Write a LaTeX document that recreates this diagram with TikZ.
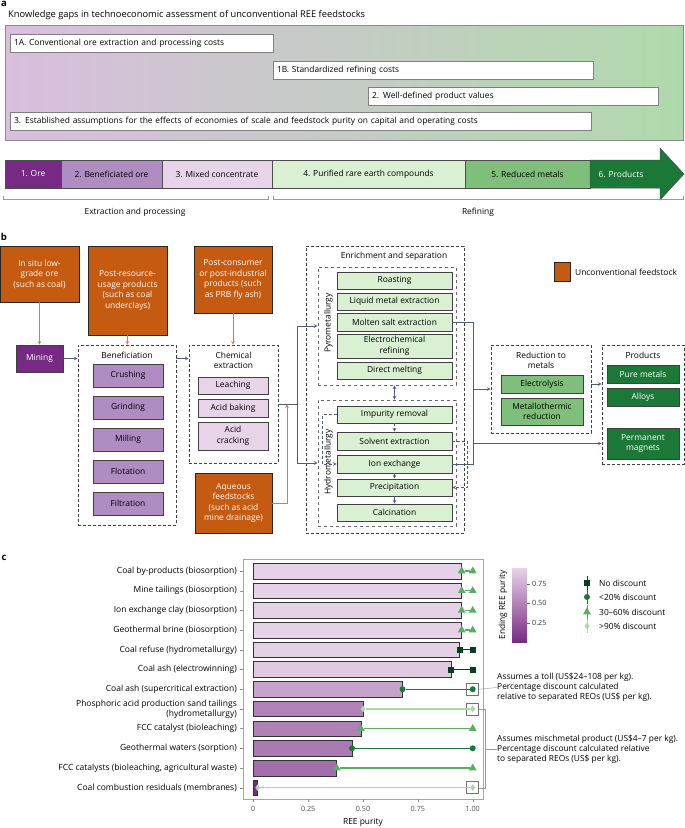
\documentclass[tikz,border=0pt]{standalone}
\usepackage{fontspec}
\setmainfont{Open Sans}
\usepackage{xcolor}
\usepackage{tikz}
\usetikzlibrary{arrows, shapes.geometric, positioning, calc}

\definecolor{ore}{HTML}{762A83}
\definecolor{benore}{HTML}{AF8DC3}
\definecolor{mixcon}{HTML}{E7D4E8}
\definecolor{purif}{HTML}{D9F0D3}
\definecolor{redmet}{HTML}{7FBF7B}
\definecolor{prodgreen}{HTML}{1B7837}
\definecolor{feedorange}{HTML}{C55A11}
\definecolor{feedline}{HTML}{E07A36}
\definecolor{flowblue}{HTML}{4E5C7E}
\definecolor{nodisc}{HTML}{00441B}
\definecolor{lowdisc}{HTML}{1B7837}
\definecolor{middisc}{HTML}{5AAE61}
\definecolor{highdisc}{HTML}{A6DBA0}
\definecolor{gapviolet}{HTML}{D9BEDE}
\definecolor{gapgreen}{HTML}{B0D9AB}

\tikzset{
  txt/.style={font=\fontsize{8.4}{10.5}\selectfont},
  gapbox/.style={draw=black!50, fill=white, line width=0.5pt, minimum height=18pt, inner xsep=4pt, inner ysep=0pt, align=left, txt},
  stage/.style={draw=black!70, line width=0.5pt, minimum height=28pt, inner sep=0pt, txt},
  feed/.style={draw=black!85, fill=feedorange, text=white, align=center, inner sep=0pt, line width=0.6pt, txt},
  group/.style={draw=black!75, densely dashed, line width=0.6pt, inner sep=0pt},
  subgroup/.style={draw=black!60, dashed, line width=0.8pt, inner sep=0pt},
  stepbox/.style={draw=black!75, line width=0.7pt, inner sep=0pt, align=center, txt},
  flowline/.style={draw=flowblue, line width=0.7pt},
  flow/.style={->, flowline},
  feedflow/.style={->, draw=feedline, line width=0.7pt},
  loopflow/.style={->, flowline, densely dashed},
  catlabel/.style={anchor=east, inner sep=0pt, align=right, font=\fontsize{8.5}{10}\selectfont},
  bar/.style={draw=black!80, line width=0.6pt},
  tri/.style={regular polygon, regular polygon sides=3, fill=middisc, inner sep=0pt, minimum size=9pt},
  sqmark/.style={rectangle, fill=nodisc, minimum size=6pt, inner sep=0pt},
  circmark/.style={circle, fill=lowdisc, minimum size=6pt, inner sep=0pt},
  diamark/.style={diamond, fill=highdisc, minimum width=5pt, minimum height=7pt, inner sep=0pt},
  discline/.style={line width=1.3pt},
  tolbox/.style={draw=black!55, line width=0.6pt, minimum size=12pt, inner sep=0pt},
  ticklabel/.style={font=\fontsize{7.2}{8}\selectfont, text=black!70, inner sep=0pt},
  notetext/.style={anchor=west, align=left, inner sep=0pt, font=\fontsize{8.4}{10}\selectfont},
  panel/.style={font=\bfseries\fontsize{9.5}{9.5}\selectfont, inner sep=0pt}
}

\begin{document}
\begin{tikzpicture}[x=1pt, y=-1pt, >=stealth, txt]
    \useasboundingbox (0,0) rectangle (685,828);

    % panel a
    \node[panel] (la) at (4,4) {a};
    \node[anchor=west, inner sep=0pt, font=\fontsize{9.3}{10}\selectfont] (gaptitle) at (8,15) {Knowledge gaps in technoeconomic assessment of unconventional REE feedstocks};
    \shade[left color=gapviolet, middle color=white, right color=gapgreen] (5,25) rectangle (683,140);
    \draw[black!45, line width=0.6pt] (5,25) rectangle (683,140);

    \node[gapbox, text width=255pt] (gap1a) at (141.5,43.5) {1A. Conventional ore extraction and processing costs};
    \node[gapbox, text width=312pt] (gap1b) at (433,70) {1B. Standardized refining costs};
    \node[gapbox, text width=282pt] (gap2) at (513,96) {2. Well-defined product values};
    \node[gapbox, text width=573pt] (gap3) at (300.5,121) {3. Established assumptions for the effects of economies of scale and feedstock purity on capital and operating costs};

    \node[stage, fill=ore, text=white, minimum width=56pt] (s1) at (33,174) {1. Ore};
    \node[stage, fill=benore, minimum width=101pt] (s2) at (111.5,174) {2. Beneficiated ore};
    \node[stage, fill=mixcon, minimum width=110pt] (s3) at (217,174) {3. Mixed concentrate};
    \node[stage, fill=purif, minimum width=193pt] (s4) at (368.5,174) {4. Purified rare earth compounds};
    \node[stage, fill=redmet, minimum width=125pt] (s5) at (527.5,174) {5. Reduced metals};
    \draw[fill=prodgreen, draw=black!70, line width=0.5pt] (590,160) -- (660,160) -- (660,148) -- (684,174) -- (660,200) -- (660,188) -- (590,188) -- cycle;
    \node[text=white] (s6) at (621,174) {6. Products};

    \draw[black!40] (3,196) -- (3,199) -- (268,199) -- (268,196);
    \draw[black!40] (273,196) -- (273,199) -- (683,199) -- (683,196);
    \node (extr) at (135,212) {Extraction and processing};
    \node (refin) at (478,212) {Refining};

    % panel b
    \node[panel] (lb) at (4,237) {b};

    \node[feed, minimum width=79pt, minimum height=56pt] (insitu) at (39.5,274) {In situ low-\\grade ore\\(such as coal)};
    \node[feed, minimum width=79pt, minimum height=89pt] (postres) at (127.5,290.5) {Post-resource-\\usage products\\(such as coal\\underclays)};
    \node[feed, minimum width=78pt, minimum height=67pt] (postcon) at (233,279.5) {Post-consumer\\or post-industrial\\products (such\\as PRB fly ash)};
    \node[feed, minimum width=77pt, minimum height=60pt] (aqueous) at (233.5,503) {Aqueous\\feedstocks\\(such as acid\\mine drainage)};

    \node[stepbox, fill=ore, text=white, minimum width=47pt, minimum height=27pt] (mining) at (39.5,358.5) {Mining};

    \node[group, minimum width=98pt, minimum height=180pt] (benef) at (127,435) {};
    \node (benefT) at (127,355) {Beneficiation};
    \node[stepbox, fill=benore, minimum width=70pt, minimum height=23pt] (crush) at (128,375.5) {Crushing};
    \node[stepbox, fill=benore, minimum width=70pt, minimum height=23pt] (grind) at (128,407.5) {Grinding};
    \node[stepbox, fill=benore, minimum width=70pt, minimum height=23pt] (mill) at (128,439.5) {Milling};
    \node[stepbox, fill=benore, minimum width=70pt, minimum height=23pt] (flot) at (128,471.5) {Flotation};
    \node[stepbox, fill=benore, minimum width=70pt, minimum height=23pt] (filt) at (128,503.5) {Filtration};

    \node[group, minimum width=89pt, minimum height=118pt] (chem) at (233.5,404) {};
    \node[align=center] (chemT) at (233.5,360.5) {Chemical\\extraction};
    \node[stepbox, fill=mixcon, minimum width=70pt, minimum height=17pt] (leach) at (233,385.5) {Leaching};
    \node[stepbox, fill=mixcon, minimum width=70pt, minimum height=18pt] (bake) at (233,408) {Acid baking};
    \node[stepbox, fill=mixcon, minimum width=70pt, minimum height=28pt] (crack) at (233,436) {Acid\\cracking};

    \node[group, minimum width=158pt, minimum height=287pt] (enrich) at (385,389.5) {};
    \node (enrichT) at (394,256) {Enrichment and separation};

    \node[subgroup, minimum width=138pt, minimum height=118pt] (pyro) at (387,326) {};
    \node[rotate=90] (pyroT) at (328.5,323) {Pyrometallurgy};
    \node[stepbox, fill=purif, minimum width=115pt, minimum height=17pt] (roast) at (394.5,280.5) {Roasting};
    \node[stepbox, fill=purif, minimum width=115pt, minimum height=17pt] (liquid) at (394.5,301.5) {Liquid metal extraction};
    \node[stepbox, fill=purif, minimum width=115pt, minimum height=18pt] (molten) at (394.5,322) {Molten salt extraction};
    \node[stepbox, fill=purif, minimum width=115pt, minimum height=24pt] (echem) at (394.5,346) {Electrochemical\\refining};
    \node[stepbox, fill=purif, minimum width=115pt, minimum height=17pt] (dmelt) at (394.5,370.5) {Direct melting};

    \node[subgroup, minimum width=138pt, minimum height=126pt] (hydro) at (387,463) {};
    \node[rotate=90] (hydroT) at (328.5,462) {Hydrometallurgy};
    \node[stepbox, fill=purif, minimum width=115pt, minimum height=17pt] (impur) at (394.5,414.5) {Impurity removal};
    \node[stepbox, fill=purif, minimum width=115pt, minimum height=18pt] (solvent) at (394.5,441) {Solvent extraction};
    \node[stepbox, fill=purif, minimum width=115pt, minimum height=18pt] (ion) at (394.5,464) {Ion exchange};
    \node[stepbox, fill=purif, minimum width=115pt, minimum height=17pt] (precip) at (394.5,487.5) {Precipitation};
    \node[stepbox, fill=purif, minimum width=115pt, minimum height=17pt] (calcin) at (394.5,512.5) {Calcination};

    \node[group, minimum width=100pt, minimum height=88pt] (reduc) at (541,389) {};
    \node[align=center] (reducT) at (541,360.5) {Reduction to\\metals};
    \node[stepbox, fill=redmet, minimum width=82pt, minimum height=18pt] (electro) at (542,384) {Electrolysis};
    \node[stepbox, fill=redmet, minimum width=82pt, minimum height=27pt] (metallo) at (542,411.5) {Metallothermic\\reduction};

    \node[group, minimum width=82pt, minimum height=119pt] (prods) at (643,404.5) {};
    \node (prodsT) at (643,355) {Products};
    \node[stepbox, fill=prodgreen, text=white, minimum width=72pt, minimum height=18pt] (pure) at (643,374) {Pure metals};
    \node[stepbox, fill=prodgreen, text=white, minimum width=72pt, minimum height=18pt] (alloys) at (643,397) {Alloys};
    \node[stepbox, fill=prodgreen, text=white, minimum width=72pt, minimum height=31pt] (magnets) at (643,443.5) {Permanent\\magnets};

    \node[draw=black!85, fill=feedorange, minimum width=16pt, minimum height=19pt, inner sep=0pt] (legsq) at (562,271.5) {};
    \node[anchor=west, inner sep=0pt] (legtext) at (575,272) {Unconventional feedstock};

    \draw[feedflow] (insitu.south) -- (mining.north);
    \draw[feedflow] (postres.south) -- (postres.south |- benef.north);
    \draw[feedflow] (postcon.south) -- (postcon.south |- chem.north);
    \draw[flow] (mining.east) -- (mining.east -| benef.west);
    \draw[flow] (benef.east |- mining.east) -- (chem.west |- mining.east);

    \coordinate (split) at (297,404);
    \coordinate (aqjoin) at (287,404);
    \draw[flowline] (chem.east) -- (split);
    \draw[flow] (split) |- (pyro.west);
    \draw[flow] (split) |- (hydro.west);
    \draw[feedflow] (aqueous.east) -| (aqjoin);

    \draw[flow, <->] (dmelt.south |- pyro.south) -- (dmelt.south |- hydro.north);
    \draw[loopflow] (impur.south) -- (solvent.north);
    \draw[loopflow] (ion.south) -- (precip.north);
    \draw[flow] (precip.south) -- (calcin.north);
    \draw[loopflow] (impur.west) -- ++(-14,0) |- (ion.west);
    \draw[loopflow] (solvent.east) -- ++(15,0) |- (precip.east);

    \coordinate (otop) at (473,322);
    \coordinate (obot) at (473,464);
    \draw[flowline] (molten.east) -- (otop) -- (obot) -- (ion.east);
    \draw[flow] (otop |- reduc.west) -- (reduc.west);
    \draw[flow] (otop |- magnets.west) -- (magnets.west -| prods.west);
    \draw[flow] (electro.east -| reduc.east) -- (electro.east -| prods.west);

    % panel c
    \node[panel] (lc) at (4,558) {c};
    \draw[black!35, line width=0.6pt] (243,559) rectangle (483,799);

    \node[catlabel] (c1) at (237,571) {Coal by-products (biosorption)};
    \node[catlabel] (c2) at (237,590.7) {Mine tailings (biosorption)};
    \node[catlabel] (c3) at (237,610.4) {Ion exchange clay (biosorption)};
    \node[catlabel] (c4) at (237,630.1) {Geothermal brine (biosorption)};
    \node[catlabel] (c5) at (237,649.8) {Coal refuse (hydrometallurgy)};
    \node[catlabel] (c6) at (237,669.5) {Coal ash (electrowinning)};
    \node[catlabel] (c7) at (237,689.2) {Coal ash (supercritical extraction)};
    \node[catlabel] (c8) at (237,708.9) {Phosphoric acid production sand tailings\\(hydrometallurgy)};
    \node[catlabel] (c9) at (237,728.6) {FCC catalyst (bioleaching)};
    \node[catlabel] (c10) at (237,748.3) {Geothermal waters (sorption)};
    \node[catlabel] (c11) at (237,768) {FCC catalysts (bioleaching, agricultural waste)};
    \node[catlabel] (c12) at (237,787.7) {Coal combustion residuals (membranes)};

    \draw[black!45] (239.5,571) -- (243,571);
    \draw[black!45] (239.5,590.7) -- (243,590.7);
    \draw[black!45] (239.5,610.4) -- (243,610.4);
    \draw[black!45] (239.5,630.1) -- (243,630.1);
    \draw[black!45] (239.5,649.8) -- (243,649.8);
    \draw[black!45] (239.5,669.5) -- (243,669.5);
    \draw[black!45] (239.5,689.2) -- (243,689.2);
    \draw[black!45] (239.5,708.9) -- (243,708.9);
    \draw[black!45] (239.5,728.6) -- (243,728.6);
    \draw[black!45] (239.5,748.3) -- (243,748.3);
    \draw[black!45] (239.5,768) -- (243,768);
    \draw[black!45] (239.5,787.7) -- (243,787.7);

    \draw[bar, fill=mixcon!99!ore] (253.3,563.2) rectangle (461.7,578.8);
    \draw[bar, fill=mixcon!99!ore] (253.3,582.9) rectangle (461.7,598.5);
    \draw[bar, fill=mixcon!99!ore] (253.3,602.6) rectangle (461.7,618.2);
    \draw[bar, fill=mixcon!99!ore] (253.3,622.3) rectangle (461.7,637.9);
    \draw[bar, fill=mixcon!98!ore] (253.3,642.0) rectangle (459.5,657.6);
    \draw[bar, fill=mixcon!94!ore] (253.3,661.7) rectangle (450.8,677.3);
    \draw[bar, fill=mixcon!71!ore] (253.3,681.4) rectangle (402.5,697.0);
    \draw[bar, fill=mixcon!52!ore] (253.3,701.1) rectangle (363.0,716.7);
    \draw[bar, fill=mixcon!51!ore] (253.3,720.8) rectangle (360.8,736.4);
    \draw[bar, fill=mixcon!47!ore] (253.3,740.5) rectangle (352.0,756.1);
    \draw[bar, fill=mixcon!40!ore] (253.3,760.2) rectangle (336.7,775.8);
    \draw[bar, fill=mixcon!2!ore] (253.3,779.9) rectangle (257.7,795.5);

    \node[tolbox] (box7) at (472.7,689.2) {};
    \node[tolbox] (box8) at (472.7,708.9) {};
    \node[tolbox] (box12) at (472.7,787.7) {};

    \node[tri] (m1a) at (461.7,571) {};
    \node[tri] (m1b) at (472.7,571) {};
    \node[tri] (m2a) at (461.7,590.7) {};
    \node[tri] (m2b) at (472.7,590.7) {};
    \node[tri] (m3a) at (461.7,610.4) {};
    \node[tri] (m3b) at (472.7,610.4) {};
    \node[tri] (m4a) at (461.7,630.1) {};
    \node[tri] (m4b) at (472.7,630.1) {};
    \node[sqmark] (m5a) at (459.5,649.8) {};
    \node[sqmark] (m5b) at (472.7,649.8) {};
    \node[sqmark] (m6a) at (450.8,669.5) {};
    \node[sqmark] (m6b) at (472.7,669.5) {};
    \node[circmark] (m7a) at (402.5,689.2) {};
    \node[circmark] (m7b) at (472.7,689.2) {};
    \node[diamark] (m8a) at (363.0,708.9) {};
    \node[diamark] (m8b) at (472.7,708.9) {};
    \node[tri] (m9a) at (360.8,728.6) {};
    \node[tri] (m9b) at (472.7,728.6) {};
    \node[circmark] (m10a) at (352.0,748.3) {};
    \node[circmark] (m10b) at (472.7,748.3) {};
    \node[tri] (m11a) at (336.7,768) {};
    \node[tri] (m11b) at (472.7,768) {};
    \node[diamark] (m12a) at (257.7,787.7) {};
    \node[diamark] (m12b) at (472.7,787.7) {};

    \draw[discline, middisc] (m1a) -- (m1b);
    \draw[discline, middisc] (m2a) -- (m2b);
    \draw[discline, middisc] (m3a) -- (m3b);
    \draw[discline, middisc] (m4a) -- (m4b);
    \draw[discline, nodisc] (m5a) -- (m5b);
    \draw[discline, nodisc] (m6a) -- (m6b);
    \draw[discline, lowdisc] (m7a) -- (m7b);
    \draw[discline, highdisc] (m8a) -- (m8b);
    \draw[discline, middisc] (m9a) -- (m9b);
    \draw[discline, lowdisc] (m10a) -- (m10b);
    \draw[discline, middisc] (m11a) -- (m11b);
    \draw[discline, highdisc] (m12a) -- (m12b);

    \draw[black!45] (253.3,799) -- (253.3,802);
    \draw[black!45] (308.15,799) -- (308.15,802);
    \draw[black!45] (363,799) -- (363,802);
    \draw[black!45] (417.85,799) -- (417.85,802);
    \draw[black!45] (472.7,799) -- (472.7,802);
    \node[ticklabel] (x0) at (253.3,809) {0};
    \node[ticklabel] (x1) at (308.15,809) {0.25};
    \node[ticklabel] (x2) at (363,809) {0.50};
    \node[ticklabel] (x3) at (417.85,809) {0.75};
    \node[ticklabel] (x4) at (472.7,809) {1.00};
    \node (xlab) at (363,822) {REE purity};

    % colour bar and legend
    \shade[bottom color=ore, top color=mixcon] (512,568) rectangle (527,642);
    \draw[black!60] (527,584) -- (529.5,584);
    \draw[black!60] (527,603.4) -- (529.5,603.4);
    \draw[black!60] (527,622.7) -- (529.5,622.7);
    \node[ticklabel, anchor=west, text=black!80] (cb3) at (532,584) {0.75};
    \node[ticklabel, anchor=west, text=black!80] (cb2) at (532,603.4) {0.50};
    \node[ticklabel, anchor=west, text=black!80] (cb1) at (532,622.7) {0.25};
    \node[rotate=90] (cbT) at (503,605) {Ending REE purity};

    \draw[nodisc, line width=1pt] (587,576) -- (587,590);
    \node[sqmark] (lg1) at (587,583) {};
    \node[anchor=west, inner sep=0pt] (lg1t) at (599,583) {No discount};
    \draw[lowdisc, line width=1pt] (587,590) -- (587,604);
    \node[circmark] (lg2) at (587,597) {};
    \node[anchor=west, inner sep=0pt] (lg2t) at (599,597) {<20\% discount};
    \draw[middisc, line width=1pt] (587,605) -- (587,619);
    \node[tri] (lg3) at (587,612) {};
    \node[anchor=west, inner sep=0pt] (lg3t) at (599,612) {30--60\% discount};
    \draw[highdisc, line width=1pt] (587,619) -- (587,633);
    \node[diamark] (lg4) at (587,626) {};
    \node[anchor=west, inner sep=0pt] (lg4t) at (599,626) {>90\% discount};

    % notes
    \node[notetext] (note1) at (497,687.5) {Assumes a toll (US\$24--108 per kg).\\Percentage discount calculated\\relative to separated REOs (US\$ per kg).};
    \draw[black!40] (box7.east) -- (note1.west);
    \node[notetext] (note2) at (497,749) {Assumes mischmetal product (US\$4--7 per kg).\\Percentage discount calculated relative\\to separated REOs (US\$ per kg).};
    \coordinate (brtop) at (485,708.9);
    \coordinate (brbot) at (485,787.7);
    \draw[black!40] (box8.east) -- (brtop) -- (brbot) -- (box12.east);
    \draw[black!40] (brtop |- note2.west) -- (note2.west);

\end{tikzpicture}
\end{document}
